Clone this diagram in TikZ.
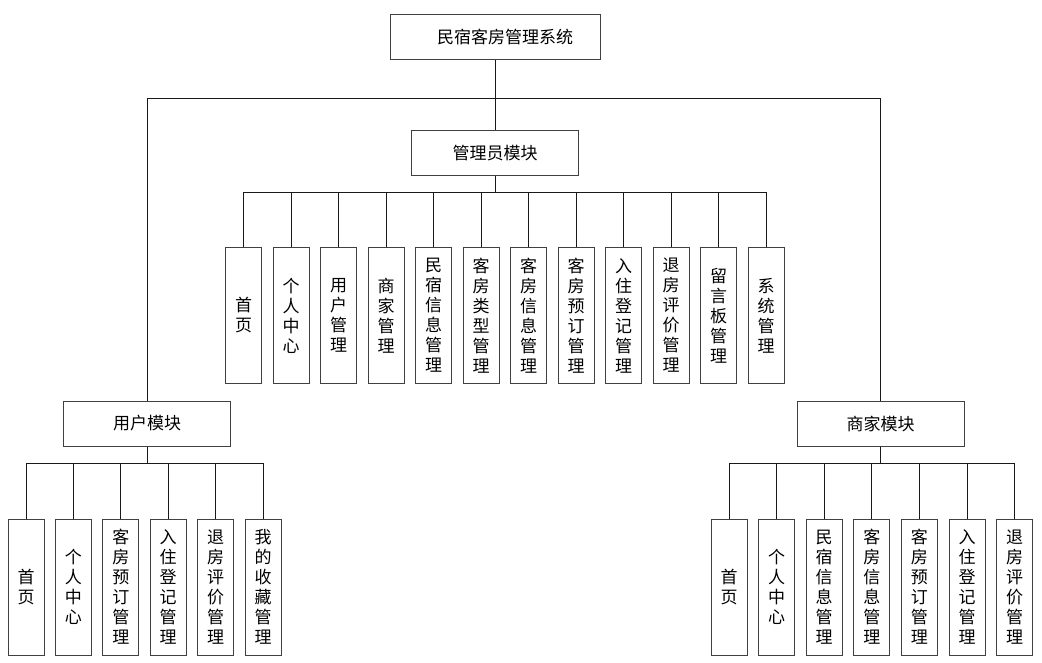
\documentclass[tikz,border=0pt]{standalone}
\usepackage{fontspec}
\newfontfamily\cjk{Noto Sans CJK SC}
\begin{document}
\begin{tikzpicture}[x=1pt,y=-1pt,
  box/.style={draw=black!75,line width=1pt,inner sep=0pt,align=center,
    font=\cjk\fontsize{17}{20}\selectfont},
  topbox/.style={box,minimum width=210,minimum height=45},
  modbox/.style={box,minimum width=167,minimum height=45},
  leafA/.style={box,minimum width=36,minimum height=135},
  leafB/.style={box,minimum width=36,minimum height=136},
  conn/.style={draw=black!90,line width=1pt}]
\useasboundingbox (0,0) rectangle (1042,663);
\node[topbox] (root) at (495,37) {\hspace{20pt}民宿客房管理系统};
\node[modbox] (admin) at (495,153.5) {管理员模块};
\node[modbox] (user) at (147,423.5) {用户模块};
\node[modbox] (merch) at (880.5,423.5) {商家模块};
\coordinate (jl) at (147,99);
\coordinate (jr) at (880.5,99);
\draw[conn] (root.south) -- (admin.north);
\draw[conn] (user.north) -- (jl) -- (jr) -- (merch.north);
% admin leaves
\foreach \t [count=\i from 0] in {首\\页,个\\人\\中\\心,用\\户\\管\\理,商\\家\\管\\理,民\\宿\\信\\息\\管\\理,客\\房\\类\\型\\管\\理,客\\房\\信\\息\\管\\理,客\\房\\预\\订\\管\\理,入\\住\\登\\记\\管\\理,退\\房\\评\\价\\管\\理,留\\言\\板\\管\\理,系\\统\\管\\理}{
  \node[leafA] (a\i) at ({243.7+47.5*\i},315.5) {\t};
  \draw[conn] (admin.south) -- ++(0,16) -| (a\i.north);
}
% user leaves
\foreach \t [count=\i from 0] in {首\\页,个\\人\\中\\心,客\\房\\预\\订\\管\\理,入\\住\\登\\记\\管\\理,退\\房\\评\\价\\管\\理,我\\的\\收\\藏\\管\\理}{
  \node[leafB] (u\i) at ({26+47.4*\i},587) {\t};
  \draw[conn] (user.south) -- ++(0,17) -| (u\i.north);
}
% merchant leaves
\foreach \t [count=\i from 0] in {首\\页,个\\人\\中\\心,民\\宿\\信\\息\\管\\理,客\\房\\信\\息\\管\\理,客\\房\\预\\订\\管\\理,入\\住\\登\\记\\管\\理,退\\房\\评\\价\\管\\理}{
  \node[leafB] (m\i) at ({729+47.6*\i},587) {\t};
  \draw[conn] (merch.south) -- ++(0,17) -| (m\i.north);
}
\end{tikzpicture}
\end{document}
